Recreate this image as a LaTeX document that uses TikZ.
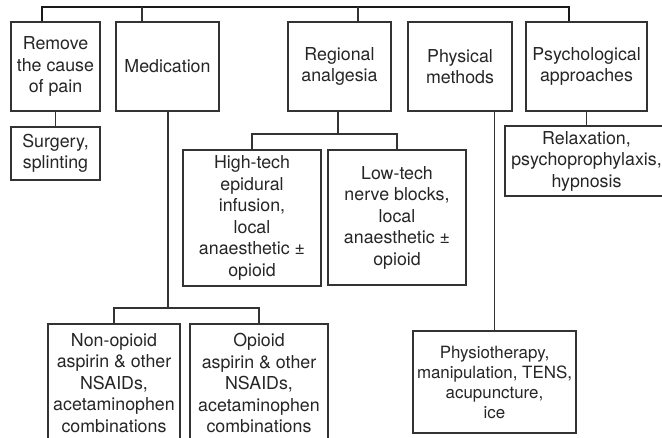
\documentclass[tikz,border=0pt]{standalone}
\usepackage{fontspec}
\setmainfont{TeX Gyre Heros}
\begin{document}
\begin{tikzpicture}[x=1pt,y=-1pt,
  box/.style={draw=black!80, line width=1.3pt, fill=white, align=center, inner sep=0pt,
    font=\fontsize{17.8}{21.5}\selectfont, text=black!85},
  smallbox/.style={box, font=\fontsize{16.9}{20}\selectfont},
  link/.style={draw=black!80, line width=1.3pt},
  toplink/.style={draw=black!90, line width=1.7pt}]
\useasboundingbox (0,0) rectangle (662,438);
\clip (0,0) rectangle (662,438);
\fill[white] (0,0) rectangle (662,438);
% top row
\node[box, minimum width=89pt, minimum height=89pt] (rem) at (55.5,66.5) {Remove\\the cause\\of pain};
\node[box, minimum width=103pt, minimum height=89pt] (med) at (167.5,66.5) {Medication};
\node[box, minimum width=103pt, minimum height=89pt] (reg) at (339.5,66.5) {Regional\\analgesia};
\node[box, minimum width=104pt, minimum height=89pt] (phy) at (460,66.5) {Physical\\methods};
\node[box, minimum width=121pt, minimum height=89pt] (psy) at (586.5,66.5) {Psychological\\approaches};
% second level
\node[box, minimum width=89pt, minimum height=53pt] (surg) at (55.5,153.5) {Surgery,\\splinting};
\node[box, minimum width=138pt, minimum height=136pt] (high) at (252,218) {High-tech\\epidural\\infusion,\\local\\anaesthetic ±\\opioid};
\node[box, minimum width=138pt, minimum height=135pt] (low) at (397,217.5) {Low-tech\\nerve blocks,\\local\\anaesthetic ±\\opioid};
\node[box, minimum width=163pt, minimum height=70pt] (relax) at (586.5,161) {Relaxation,\\psychoprophylaxis,\\hypnosis};
\node[box, minimum width=132pt, minimum height=118pt] (nonop) at (114,383) {Non-opioid\\aspirin \& other\\NSAIDs,\\acetaminophen\\combinations};
\node[box, minimum width=138pt, minimum height=118pt] (op) at (259,383) {Opioid\\aspirin \& other\\NSAIDs,\\acetaminophen\\combinations};
\node[smallbox, minimum width=163pt, minimum height=102pt] (phys) at (494.5,382) {Physiotherapy,\\manipulation, TENS,\\acupuncture,\\ice};
% top connector
\coordinate (t1) at (42,7);
\coordinate (t2) at (142,7);
\coordinate (t3) at (358,7);
\coordinate (t5) at (569,7);
\draw[toplink] (t1 |- rem.north) |- (t5) -- (t5 |- psy.north);
\draw[link] (t2) -- (t2 |- med.north);
\draw[link] (t3) -- (t3 |- reg.north);
% remove -> surgery
\draw[link] (rem.south) -- (surg.north);
% medication -> drugs
\coordinate (mj) at (168,308);
\draw[link] (mj |- med.south) -- (mj);
\draw[link] (nonop.north) |- (mj) -| (op.north);
% regional -> techniques
\coordinate (rj) at (338,134);
\draw[link] (rj |- reg.south) -- (rj);
\draw[link] (high.north) |- (rj) -| (low.north);
% physical -> physio
\draw[link] (phys.north) -- (phys.north |- phy.south);
% psychological -> relaxation
\draw[link] (psy.south) -- (relax.north);
\end{tikzpicture}
\end{document}
